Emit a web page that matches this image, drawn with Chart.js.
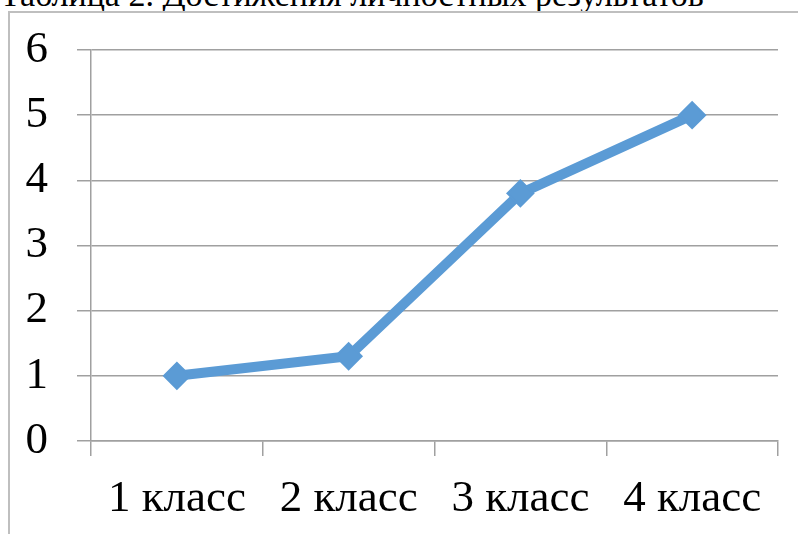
<!DOCTYPE html>
<html>
<head>
<meta charset="utf-8">
<script src="https://cdn.jsdelivr.net/npm/chart.js@4.4.1/dist/chart.umd.min.js"></script>
<style>
  html, body { margin: 0; padding: 0; background: #fff; overflow: hidden; }
  #wrap { position: relative; width: 798px; height: 534px; overflow: hidden; }
  #title { position: absolute; left: 0; top: -22px; font-family: "Liberation Serif", "Times New Roman", serif; font-size: 34px; line-height: 34px; color: #000; white-space: nowrap; }
  #frame { position: absolute; left: 8px; top: 11px; width: 900px; height: 700px; border-left: 2px solid #BFBFBF; border-top: 2px solid #BFBFBF; }
  #c { position: absolute; left: 0; top: 0; }
</style>
</head>
<body>
<div id="wrap">
  <div id="title">Таблица 2. Достижения личностных результатов</div>
  <div id="frame"></div>
  <canvas id="c" width="798" height="534"></canvas>
</div>
<script>
const categories = ["1 класс", "2 класс", "3 класс", "4 класс"];
const values = [1, 1.3, 3.8, 5];
const yTicks = [0, 1, 2, 3, 4, 5, 6];

const ctx = document.getElementById('c');
const chart = new Chart(ctx, {
  type: 'line',
  data: {
    labels: categories,
    datasets: [{
      data: values,
      borderColor: '#5B9BD5',
      backgroundColor: '#5B9BD5',
      borderWidth: 10,
      pointStyle: 'rectRot',
      pointRadius: 13,
      pointHoverRadius: 13,
      pointBorderWidth: 2,
      pointBackgroundColor: '#5B9BD5',
      pointBorderColor: '#5B9BD5',
      tension: 0,
      fill: false
    }]
  },
  options: {
    responsive: false,
    animation: false,
    devicePixelRatio: 1,
    layout: { padding: { left: 0, right: 20, top: 50, bottom: 0 } },
    plugins: { legend: { display: false }, tooltip: { enabled: false }, title: { display: false } },
    scales: {
      x: {
        offset: true,
        grid: { offset: true, drawOnChartArea: false, color: '#A0A0A0', lineWidth: 1.5, tickLength: 15 },
        border: { color: '#A0A0A0', width: 1.5 },
        ticks: { color: '#000', padding: 16, font: { family: 'Liberation Serif', size: 45 }, maxRotation: 0, autoSkip: false },
        afterFit: s => { s.height = 93; s.paddingLeft = 0; s.paddingRight = 0; }
      },
      y: {
        min: 0, max: 6,
        afterBuildTicks: s => { s.ticks = yTicks.map(v => ({ value: v })); },
        grid: { color: '#A0A0A0', lineWidth: 1.5, tickLength: 14 },
        border: { color: '#A0A0A0', width: 1.5 },
        ticks: { color: '#000', padding: 29, font: { family: 'Liberation Serif', size: 45 } },
        afterFit: s => { s.width = 91; s.paddingTop = 0; s.paddingBottom = 0; }
      }
    }
  }
});
</script>
</body>
</html>
